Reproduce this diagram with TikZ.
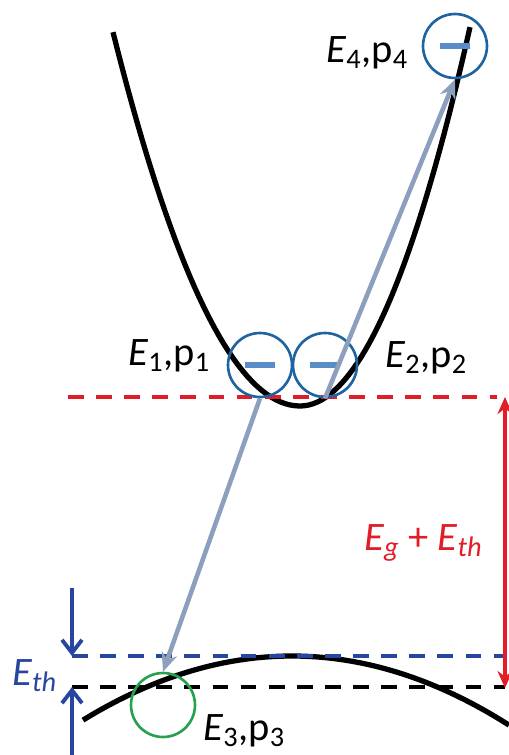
\documentclass[tikz,border=0pt]{standalone}
\usepackage{fontspec}
\setmainfont{Carlito}
\usetikzlibrary{positioning,arrows.meta}
\definecolor{elecline}{RGB}{30,100,160}
\definecolor{elecdash}{RGB}{90,140,200}
\definecolor{holeline}{RGB}{40,160,80}
\definecolor{jumpline}{RGB}{140,160,190}
\definecolor{gapline}{RGB}{225,30,40}
\definecolor{thline}{RGB}{40,70,160}
\tikzset{
  band/.style={line width=3pt},
  lvl/.style={line width=2.6pt, dash pattern=on 9pt off 7pt},
  elecbox/.style={circle, draw=elecline, line width=1.5pt, minimum size=1.28cm, inner sep=0pt},
  holebox/.style={elecbox, draw=holeline},
  jump/.style={-{Stealth[length=0.38cm, width=0.32cm]}, line width=2.6pt, jumpline},
  gaparrow/.style={{Stealth[length=0.34cm, width=0.3cm]}-{Stealth[length=0.34cm, width=0.3cm]}, line width=2.2pt, gapline},
  tharrow/.style={-{Straight Barb[length=0.26cm, width=0.4cm]}, line width=2.2pt, thline},
  lbl/.style={font=\fontsize{23}{27}\selectfont, inner sep=0pt, anchor=base west},
}
\newcommand{\minus}{\textcolor{elecdash}{\rule{0.62cm}{3pt}}}

\begin{document}
\begin{tikzpicture}[x=0.02cm, y=-0.02cm]
  \useasboundingbox (0,0) rectangle (509,755);

  % conduction and valence band
  \draw[band] plot[domain=113:300, samples=40] (\x, {406-((\x-300)*0.1034)^2});
  \draw[band] plot[domain=300:470, samples=40] (\x, {406-((\x-300)*0.1145)^2});
  \draw[band] plot[domain=83:509, samples=50] (\x, {656+((\x-292)*0.0383)^2});

  % energy levels
  \coordinate (cbl) at (68,397);  \coordinate (cbr) at (497,397);
  \coordinate (thl) at (72,656);  \coordinate (thr) at (505,656);
  \coordinate (vbl) at (72,687);  \coordinate (vbr) at (505,687);
  \draw[lvl, gapline] (cbl) -- (cbr);
  \draw[lvl, thline] (thl) -- (thr);
  \draw[lvl, black] (vbl) -- (vbr);

  % carriers
  \node[elecbox] (c1) at (260,365) {\minus};
  \node[elecbox] (c2) at (325,365) {\minus};
  \node[elecbox] (c4) at (455,46) {\minus};
  \node[holebox] (c3) at (163,705) {};

  \draw[jump] (c2.south) -- (c4.south);
  \draw[jump] (c1.south) -- (c3.north);

  % labels
  \node[lbl] (l1) at (128,365) {\textit{E}\textsubscript{1},p\textsubscript{1}};
  \node[lbl] (l2) at (385,367) {\textit{E}\textsubscript{2},p\textsubscript{2}};
  \node[lbl] (l4) at (326,62) {\textit{E}\textsubscript{4},p\textsubscript{4}};
  \node[lbl] (l3) at (203,740) {\textit{E}\textsubscript{3},p\textsubscript{3}};

  % gap and threshold
  \coordinate (gt) at (505,397);  \coordinate (gb) at (505,688);
  \draw[gaparrow] (gt) -- (gb);
  \node[lbl, text=gapline] (lg) at (364,550)
    {\textit{E\textsubscript{g}} + \textit{E\textsubscript{th}}};

  \coordinate (ta) at (72,588);  \coordinate (tb) at (72,755);
  \draw[tharrow] (ta) -- (thl);
  \draw[tharrow] (tb) -- (vbl);
  \node[lbl, text=thline] (lth) at (12,685) {\textit{E\textsubscript{th}}};
\end{tikzpicture}
\end{document}
